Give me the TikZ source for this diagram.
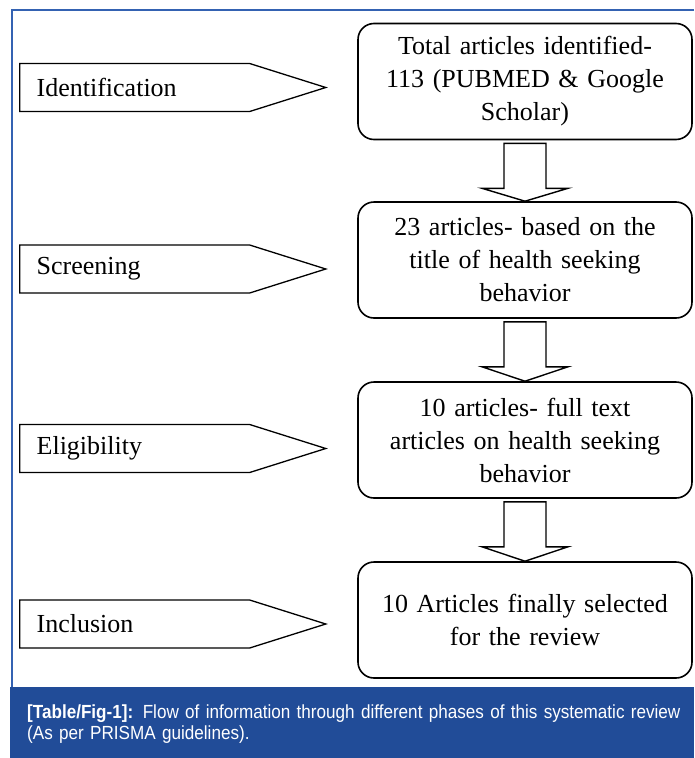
\documentclass[tikz,border=0pt]{standalone}
\usepackage{fontspec}
\setmainfont{Liberation Serif}
\newfontfamily\capfont[FakeStretch=0.9]{Liberation Sans}
\usetikzlibrary{positioning,calc,shapes.symbols}
\definecolor{capblue}{RGB}{33,76,152}
\definecolor{frameblue}{RGB}{52,98,178}

\newcommand{\flowarrow}[2]{%
    \draw[line width=1.4pt, miter limit=20]
        ($(#1.south)+(-21,-3)$) -- ($(#1.south)+(-21,-48)$) --
        ($(#1.south)+(-43,-48)$) -- (#2.north) --
        ($(#1.south)+(43,-48)$) -- ($(#1.south)+(21,-48)$) --
        ($(#1.south)+(21,-3)$) -- cycle;
}

\begin{document}
\begin{tikzpicture}[x=1pt, y=1pt, every node/.style={
    font=\fontsize{26}{33}\selectfont,
    inner sep=0pt
},
stagebox/.style={
    rectangle,
    rounded corners=16pt,
    draw,
    line width=1.6pt,
    minimum width=334pt,
    minimum height=116pt,
    text width=316pt,
    align=center
},
phasetag/.style={
    signal,
    signal to=east,
    signal pointer angle=35,
    draw,
    line width=1.3pt,
    minimum height=48pt,
    inner xsep=17pt,
    text width=196pt,
    align=left,
    anchor=west
}]
    \useasboundingbox (0,0) rectangle (694,-758);

    \draw[frameblue, line width=1.4pt] (694,-10) -- (12,-10) -- (12,-688);
    \fill[capblue] (10,-687) rectangle (694,-758);



    \node (identification) [phasetag] at (19,-87.5)
    {
        Identification
    };
    \node (screening) [phasetag] at (19,-269)
    {
        Screening
    };
    \node (eligibility) [phasetag] at (19,-448.5)
    {
        Eligibility
    };
    \node (inclusion) [phasetag] at (19,-624)
    {
        Inclusion
    };



    \node (total_identified) [stagebox] at (525,-81.5)
    {
        Total articles identified-\\113 (PUBMED \& Google\\Scholar)
    };
    \node (title_screened) [stagebox] at (525,-260)
    {
        23 articles- based on the\\title of health seeking\\behavior
    };
    \node (full_text) [stagebox] at (525,-440)
    {
        10 articles- full text\\articles on health seeking\\behavior
    };
    \node (finally_selected) [stagebox] at (525,-620)
    {
        10 Articles finally selected\\for the review
    };



    \node (caption) [anchor=north west, text width=670pt, align=left, text=white,
        font=\capfont\fontsize{19}{21}\selectfont] at (27,-705)
    {
        \textbf{[Table/Fig-1]:} Flow of information through different phases of this systematic review\\(As per PRISMA guidelines).
    };



    \flowarrow{total_identified}{title_screened}
    \flowarrow{title_screened}{full_text}
    \flowarrow{full_text}{finally_selected}


\end{tikzpicture}
\end{document}
